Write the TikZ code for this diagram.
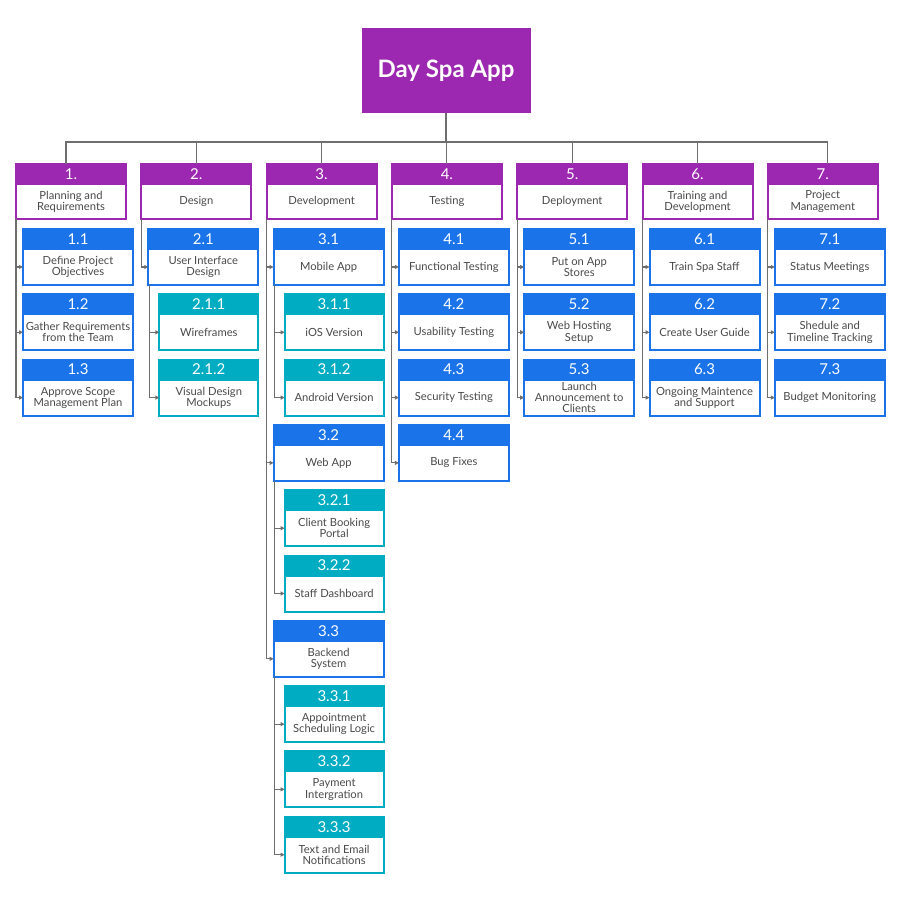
\documentclass[tikz,border=0pt]{standalone}
\usepackage{fontspec}
\setmainfont{Lato}
\usetikzlibrary{arrows.meta,calc}
\definecolor{wbspurple}{HTML}{9C27B0}
\definecolor{wbsblue}{HTML}{1A73E8}
\definecolor{wbsteal}{HTML}{00ACC1}
\definecolor{wbstext}{HTML}{4A4A4A}
\definecolor{wbsline}{HTML}{6E6E6E}
% name, x, top, width, body height, colour, number, text
\newcommand\wbs[8]{%
  \node[hdr, fill=#6, draw=#6, minimum width=#4, anchor=north west] (#1h) at (#2,#3) {#7};
  \node[bdy, draw=#6, minimum width=#4, minimum height=#5, anchor=north west] (#1) at (#1h.south west) {#8};
}
\begin{document}
\begin{tikzpicture}[x=1pt,y=-1pt,
  hdr/.style={rectangle, line width=2pt, outer sep=0pt, inner sep=0pt, minimum height=20pt,
    text=white, font=\fontsize{15}{15}\selectfont},
  bdy/.style={rectangle, line width=2pt, outer sep=0pt, inner sep=0.5pt, fill=white,
    text=wbstext, align=center, font=\fontsize{11.2}{11.2}\selectfont},
  conn/.style={draw=wbsline, line width=1.1pt, -{Triangle[length=4pt,width=4pt]}},
  bus/.style={draw=wbsline, line width=1.1pt},
  rootbox/.style={rectangle, fill=wbspurple, minimum width=169pt, minimum height=85pt,
    text=white, font=\bfseries\fontsize{24}{24}\selectfont}]
\useasboundingbox (0,0) rectangle (900,902);

\node[rootbox] (root) at (446,70.5) {Day Spa App};

% Level 1
\wbs{La}{16}{164}{110}{35}{wbspurple}{1.}{Planning and\\Requirements}
\wbs{Lb}{141.3}{164}{110}{35}{wbspurple}{2.}{Design}
\wbs{Lc}{266.6}{164}{110}{35}{wbspurple}{3.}{Development}
\wbs{Ld}{391.9}{164}{110}{35}{wbspurple}{4.}{Testing}
\wbs{Le}{517.2}{164}{110}{35}{wbspurple}{5.}{Deployment}
\wbs{Lf}{642.5}{164}{110}{35}{wbspurple}{6.}{Training and\\Development}
\wbs{Lg}{767.8}{164}{110}{35}{wbspurple}{7.}{Project\\Management}

% Column 1
\wbs{Aa}{23}{229}{110}{36}{wbsblue}{1.1}{Define Project\\Objectives}
\wbs{Ab}{23}{294.3}{110}{36}{wbsblue}{1.2}{Gather Requirements\\from the Team}
\wbs{Ac}{23}{359.6}{110}{36}{wbsblue}{1.3}{Approve Scope\\Management Plan}
% Column 2
\wbs{Ba}{148.3}{229}{110}{36}{wbsblue}{2.1}{User Interface\\Design}
\wbs{Baa}{159.3}{294.3}{99}{36}{wbsteal}{2.1.1}{Wireframes}
\wbs{Bab}{159.3}{359.6}{99}{36}{wbsteal}{2.1.2}{Visual Design\\Mockups}
% Column 3
\wbs{Ca}{273.6}{229}{110}{36}{wbsblue}{3.1}{Mobile App}
\wbs{Caa}{284.6}{294.3}{99}{36}{wbsteal}{3.1.1}{iOS Version}
\wbs{Cab}{284.6}{359.6}{99}{36}{wbsteal}{3.1.2}{Android Version}
\wbs{Cb}{273.6}{424.9}{110}{36}{wbsblue}{3.2}{Web App}
\wbs{Cba}{284.6}{490.2}{99}{36}{wbsteal}{3.2.1}{Client Booking\\Portal}
\wbs{Cbb}{284.6}{555.5}{99}{36}{wbsteal}{3.2.2}{Staff Dashboard}
\wbs{Cc}{273.6}{620.8}{110}{36}{wbsblue}{3.3}{Backend\\System}
\wbs{Cca}{284.6}{686.1}{99}{36}{wbsteal}{3.3.1}{Appointment\\Scheduling Logic}
\wbs{Ccb}{284.6}{751.4}{99}{36}{wbsteal}{3.3.2}{Payment\\Intergration}
\wbs{Ccc}{284.6}{816.7}{99}{36}{wbsteal}{3.3.3}{Text and Email\\Notifications}
% Column 4
\wbs{Da}{398.9}{229}{110}{36}{wbsblue}{4.1}{Functional Testing}
\wbs{Db}{398.9}{294.3}{110}{36}{wbsblue}{4.2}{Usability Testing}
\wbs{Dc}{398.9}{359.6}{110}{36}{wbsblue}{4.3}{Security Testing}
\wbs{Dd}{398.9}{424.9}{110}{36}{wbsblue}{4.4}{Bug Fixes}
% Column 5
\wbs{Ea}{524.2}{229}{110}{36}{wbsblue}{5.1}{Put on App\\Stores}
\wbs{Eb}{524.2}{294.3}{110}{36}{wbsblue}{5.2}{Web Hosting\\Setup}
\wbs{Ec}{524.2}{359.6}{110}{36}{wbsblue}{5.3}{Launch\\Announcement to\\Clients}
% Column 6
\wbs{Fa}{649.5}{229}{110}{36}{wbsblue}{6.1}{Train Spa Staff}
\wbs{Fb}{649.5}{294.3}{110}{36}{wbsblue}{6.2}{Create User Guide}
\wbs{Fc}{649.5}{359.6}{110}{36}{wbsblue}{6.3}{Ongoing Maintence\\and Support}
% Column 7
\wbs{Ga}{774.8}{229}{110}{36}{wbsblue}{7.1}{Status Meetings}
\wbs{Gb}{774.8}{294.3}{110}{36}{wbsblue}{7.2}{Shedule and\\Timeline Tracking}
\wbs{Gc}{774.8}{359.6}{110}{36}{wbsblue}{7.3}{Budget Monitoring}

% Bus from root
\coordinate (busc) at (446,142);
\draw[bus] (root.south) -- (busc);
\draw[bus] (busc) -| ($(Lah.north)+(-5,0)$);
\draw[bus] (busc) -| ($(Lgh.north)+(5,0)$);
\foreach \n in {Lbh,Lch,Ldh,Leh,Lfh} \draw[bus] (busc) -| (\n.north);

% Rails
\foreach \c in {Aa,Ab,Ac} \draw[conn] (La.south west) |- (\c.west);
\foreach \c in {Ba} \draw[conn] (Lb.south west) |- (\c.west);
\foreach \c in {Baa,Bab} \draw[conn] ($(Ba.south west)+(1,0)$) |- (\c.west);
\foreach \c in {Ca,Cb,Cc} \draw[conn] (Lc.south west) |- (\c.west);
\foreach \c in {Caa,Cab} \draw[conn] ($(Ca.south west)+(1,0)$) |- (\c.west);
\foreach \c in {Cba,Cbb} \draw[conn] ($(Cb.south west)+(1,0)$) |- (\c.west);
\foreach \c in {Cca,Ccb,Ccc} \draw[conn] ($(Cc.south west)+(1,0)$) |- (\c.west);
\foreach \c in {Da,Db,Dc,Dd} \draw[conn] (Ld.south west) |- (\c.west);
\foreach \c in {Ea,Eb,Ec} \draw[conn] (Le.south west) |- (\c.west);
\foreach \c in {Fa,Fb,Fc} \draw[conn] (Lf.south west) |- (\c.west);
\foreach \c in {Ga,Gb,Gc} \draw[conn] (Lg.south west) |- (\c.west);
\end{tikzpicture}
\end{document}
